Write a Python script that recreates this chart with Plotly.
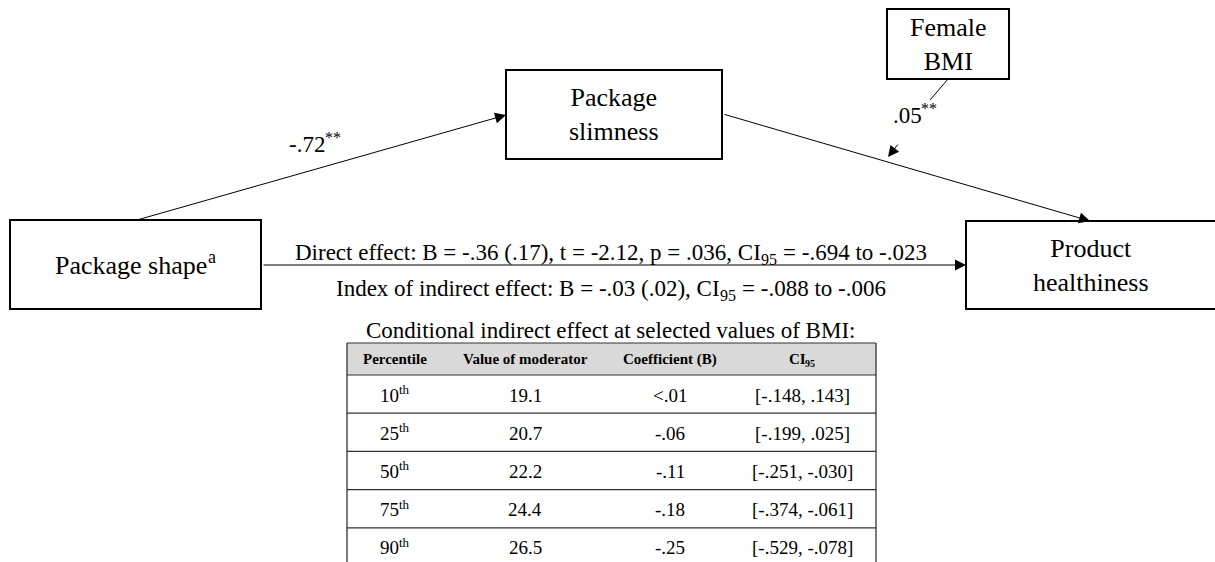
import plotly.graph_objects as go

# Moderated mediation model: shape -> slimness -> healthiness, moderated by BMI
path_a = "-.72"
path_b_mod = ".05"
direct_effect = [("Direct effect: B = -.36 (.17), t = -2.12, p = .036, CI", "n"), ("95", "sub"),
                 (" = -.694 to -.023", "n")]
index_effect = [("Index of indirect effect: B = -.03 (.02), CI", "n"), ("95", "sub"),
                (" = -.088 to -.006", "n")]
table_title = "Conditional indirect effect at selected values of BMI:"

# Conditional indirect effects table
col_headers = ["Percentile", "Value of moderator", "Coefficient (B)", "CI"]
percentiles = [10, 25, 50, 75, 90]
moderator_values = [19.1, 20.7, 22.2, 24.4, 26.5]
coefficients = ["&lt;.01", "-.06", "-.11", "-.18", "-.25"]
ci_low = [-0.148, -0.199, -0.251, -0.374, -0.529]
ci_high = [0.143, 0.025, -0.030, -0.061, -0.078]

FONT = "Liberation Serif, Times New Roman, serif"
W, H = 1215, 562

# Times-compatible advance widths (1/1000 em) used to lay out mixed-size runs
_REG = {" ": 250, "(": 333, ")": 333, "*": 500, ",": 250, "-": 333, ".": 250, ":": 278,
        "<": 564, "=": 564, "[": 333, "]": 333,
        "B": 667, "C": 667, "D": 722, "I": 333, "P": 556,
        "a": 444, "b": 500, "c": 444, "d": 500, "e": 444, "f": 333, "g": 500, "h": 500,
        "i": 278, "k": 500, "l": 278, "m": 778, "n": 500, "o": 500, "p": 500, "r": 333,
        "s": 389, "t": 278, "u": 500, "v": 500, "x": 500, "y": 500}
_BOLD = {"C": 722, "I": 389}


def text_width(s, size, bold=False):
    s = s.replace("&lt;", "<")
    tot = 0
    for ch in s:
        if ch.isdigit():
            tot += 500
        elif bold and ch in _BOLD:
            tot += _BOLD[ch]
        else:
            tot += _REG.get(ch, 500)
    return tot * size / 1000.0


def fmt3(v):
    s = f"{v:.3f}"
    return s.replace("0.", ".", 1)


fig = go.Figure()
shapes = []
ann = []


def label(x, y, s, size, xanchor="center", bold=False):
    if bold:
        s = f"<b>{s}</b>"
    ann.append(dict(x=x, y=y, text=s, showarrow=False, xanchor=xanchor, yanchor="middle",
                    borderpad=0, borderwidth=0,
                    font=dict(family=FONT, size=size, color="black")))


def rich(xc, yc, parts, size, bold=False):
    """Centred run of text made of normal / superscript / subscript pieces."""
    small = round(size * 0.7)
    sizes = [size if k == "n" else small for _, k in parts]
    widths = [text_width(s, sz, bold) for (s, _), sz in zip(parts, sizes)]
    x = xc - sum(widths) / 2
    base = yc + 0.3375 * size
    for (s, k), sz, w in zip(parts, sizes, widths):
        shift = {"n": 0.0, "sup": -0.40 * size, "sub": 0.22 * size}[k]
        body = s.lstrip(" ")
        lead = text_width(s[:len(s) - len(body)], sz, bold)
        label(x + lead, base + shift - 0.3375 * sz, body, sz, xanchor="left", bold=bold)
        x += w


def box(x0, y0, x1, y1, text=None, size=26):
    shapes.append(dict(type="rect", x0=x0, y0=y0, x1=x1, y1=y1, xref="x", yref="y",
                       line=dict(color="black", width=2), fillcolor="white", layer="above"))
    if text is not None:
        label((x0 + x1) / 2, (y0 + y1) / 2, text, size)


def arrow(x0, y0, x1, y1):
    ann.append(dict(x=x1, y=y1, ax=x0, ay=y0, xref="x", yref="y", axref="x", ayref="y",
                    text="", showarrow=True, arrowhead=2, arrowsize=2.2, arrowwidth=1,
                    arrowcolor="black", standoff=0))


# paths
arrow(137, 220, 506, 115)
arrow(723, 114, 1090, 221)
arrow(262, 265, 966, 265)
shapes.append(dict(type="line", x0=948, y0=79, x1=930, y1=100, xref="x", yref="y",
                   line=dict(color="black", width=1)))
arrow(899, 143, 888, 157)

# nodes
box(10, 220, 261, 309)
rich(135.5, 265, [("Package shape", "n"), ("a", "sup")], 26)
box(506, 70, 722, 159, "Package<br>slimness")
box(887, 9, 1009, 79, "Female<br>BMI")
box(966, 221, 1216, 309, "Product<br>healthiness")

# path coefficients
rich(315, 144, [(path_a, "n"), ("**", "sup")], 23)
rich(915, 115, [(path_b_mod, "n"), ("**", "sup")], 23)

# effect summaries
rich(611, 252, direct_effect, 23)
rich(611, 288, index_effect, 23)
label(610, 330, table_title, 23)

# table
tx0, tx1 = 347, 876
col_x = [395, 525, 670, 802]
head_top, head_bot = 343, 375
row_h = 38.2
shapes.append(dict(type="rect", x0=tx0, x1=tx1, y0=head_top, y1=head_bot, xref="x", yref="y",
                   line=dict(width=0), fillcolor="#d9d9d9", layer="below"))
shapes.append(dict(type="line", x0=tx0, x1=tx1, y0=head_top, y1=head_top, xref="x", yref="y",
                   line=dict(color="#333333", width=1.2)))
for i in range(len(percentiles)):
    yl = head_bot + i * row_h
    shapes.append(dict(type="line", x0=tx0, x1=tx1, y0=yl, y1=yl, xref="x", yref="y",
                       line=dict(color="#333333", width=1.2)))
for xe in (tx0, tx1):
    shapes.append(dict(type="line", x0=xe, x1=xe, y0=head_top, y1=H + 5, xref="x", yref="y",
                       line=dict(color="#222222", width=1.2)))

head_y = (head_top + head_bot) / 2
for cx, h in zip(col_x[:3], col_headers[:3]):
    label(cx, head_y, h, 15, bold=True)
rich(col_x[3], head_y, [(col_headers[3], "n"), ("95", "sub")], 15, bold=True)

for i, (p, m, c, lo, hi) in enumerate(zip(percentiles, moderator_values, coefficients, ci_low, ci_high)):
    yc = head_bot + (i + 0.5) * row_h + 1
    rich(col_x[0], yc, [(str(p), "n"), ("th", "sup")], 19)
    label(col_x[1], yc, f"{m:.1f}", 19)
    label(col_x[2], yc, c, 19)
    label(col_x[3], yc, f"[{fmt3(lo)}, {fmt3(hi)}]", 19)

fig.update_layout(
    width=W, height=H, margin=dict(l=0, r=0, t=0, b=0),
    paper_bgcolor="white", plot_bgcolor="white",
    xaxis=dict(range=[0, W], visible=False, fixedrange=True),
    yaxis=dict(range=[H, 0], visible=False, fixedrange=True),
    shapes=shapes, annotations=ann, showlegend=False,
)
fig.write_html("out.html")
